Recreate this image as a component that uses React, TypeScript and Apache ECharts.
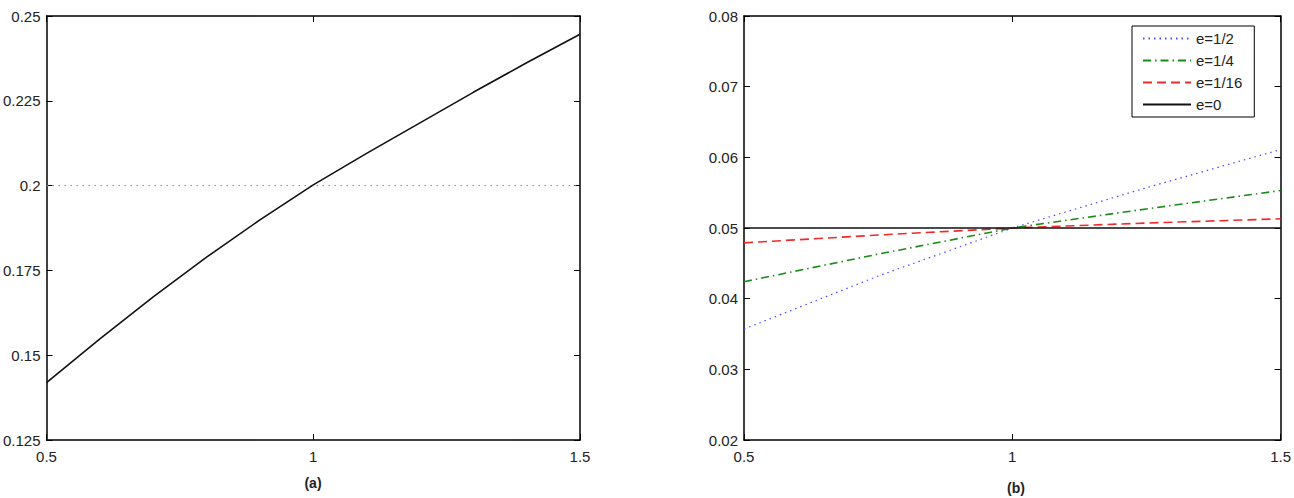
import React, { useEffect, useRef } from "react";
import * as echarts from "echarts";

// Panel (a)
const xA = [0.5, 0.6, 0.7, 0.8, 0.9, 1.0, 1.1, 1.2, 1.3, 1.4, 1.5];
const curveA = [0.1419, 0.1548, 0.1672, 0.1789, 0.1899, 0.2002, 0.2095, 0.2185, 0.2275, 0.2362, 0.2446];
const refX = [0.5, 1.5];
const refA = [0.2, 0.2];

// Panel (b)
const xB = [0.5, 0.75, 1.0, 1.25, 1.5];
const eHalf = [0.0357, 0.0432, 0.05, 0.0557, 0.0611];
const eQuarter = [0.0424, 0.0463, 0.05, 0.0527, 0.0553];
const eSixteenth = [0.0479, 0.049, 0.05, 0.0507, 0.0513];
const eZero = [0.05, 0.05, 0.05, 0.05, 0.05];
const legendNames = ["e=1/2", "e=1/4", "e=1/16", "e=0"];

const FONT = "Liberation Sans";
const TXT = "#222";

const pair = (xs: number[], ys: number[]) => xs.map((x, i) => [x, ys[i]]);

function axisPair(grid: number, min: number, max: number, interval: number, kind: "x" | "y") {
  const line = { show: true, lineStyle: { color: "#000", width: 1.5 } };
  const tick = { show: true, inside: true, length: 6, lineStyle: { color: "#000", width: 1 } };
  const main: any = {
    type: "value",
    gridIndex: grid,
    min,
    max,
    interval,
    position: kind === "x" ? "bottom" : "left",
    axisLine: { ...line, onZero: false },
    axisTick: tick,
    splitLine: { show: false },
    axisLabel: {
      show: true,
      color: TXT,
      fontFamily: FONT,
      fontSize: 15,
      margin: kind === "x" ? 9 : 6,
    },
  };
  const opp: any = {
    type: "value",
    gridIndex: grid,
    min,
    max,
    interval,
    position: kind === "x" ? "top" : "right",
    axisLine: { ...line, onZero: false },
    axisTick: tick,
    splitLine: { show: false },
    axisLabel: { show: false },
  };
  return [main, opp];
}

export default function App() {
  const ref = useRef<HTMLDivElement>(null);
  useEffect(() => {
    document.body.style.margin = "0";
    const chart = echarts.init(ref.current!, null, { renderer: "svg" });
    const option: any = {
      animation: false,
      backgroundColor: "#fff",
      grid: [
        { left: 42, top: 16, width: 538, height: 424 },
        { left: 744, top: 16, width: 540, height: 424 },
      ],
      xAxis: [...axisPair(0, 0.5, 1.5, 0.5, "x"), ...axisPair(1, 0.5, 1.5, 0.5, "x")],
      yAxis: [...axisPair(0, 0.125, 0.25, 0.025, "y"), ...axisPair(1, 0.02, 0.08, 0.01, "y")],
      legend: {
        orient: "vertical",
        left: 1132,
        top: 26,
        padding: [5, 12, 5, 10],
        borderColor: "#000",
        borderWidth: 1,
        backgroundColor: "#fff",
        itemWidth: 48,
        itemHeight: 14,
        itemGap: 7,
        itemTextGap: 6,
        itemStyle: { opacity: 0, borderWidth: 0 },
        data: legendNames,
        textStyle: { color: TXT, fontFamily: FONT, fontSize: 15 },
      },
      series: [
        {
          name: "ref",
          type: "line",
          xAxisIndex: 0,
          yAxisIndex: 0,
          symbol: "none",
          data: pair(refX, refA),
          lineStyle: { color: "#888", width: 1, type: [1.5, 4.5] },
        },
        {
          name: "curve",
          type: "line",
          xAxisIndex: 0,
          yAxisIndex: 0,
          symbol: "none",
          data: pair(xA, curveA),
          lineStyle: { color: "#111", width: 1.6 },
        },
        {
          name: legendNames[0],
          type: "line",
          xAxisIndex: 2,
          yAxisIndex: 2,
          symbol: "none",
          data: pair(xB, eHalf),
          color: "#4a4aff",
          lineStyle: { color: "#4a4aff", width: 1.2, type: [1.5, 4] },
        },
        {
          name: legendNames[1],
          type: "line",
          xAxisIndex: 2,
          yAxisIndex: 2,
          symbol: "none",
          data: pair(xB, eQuarter),
          color: "#1a8a1a",
          lineStyle: { color: "#1a8a1a", width: 1.6, type: [8, 4, 1.5, 4] },
        },
        {
          name: legendNames[2],
          type: "line",
          xAxisIndex: 2,
          yAxisIndex: 2,
          symbol: "none",
          data: pair(xB, eSixteenth),
          color: "#f02a2a",
          lineStyle: { color: "#f02a2a", width: 1.6, type: [9, 5] },
        },
        {
          name: legendNames[3],
          type: "line",
          xAxisIndex: 2,
          yAxisIndex: 2,
          symbol: "none",
          data: pair(xB, eZero),
          color: "#111",
          lineStyle: { color: "#111", width: 1.3 },
        },
      ],
      graphic: [
        {
          type: "text",
          x: 313,
          y: 483,
          style: {
            text: "(a)",
            font: `bold 14px "${FONT}"`,
            fill: TXT,
            textAlign: "center",
            textVerticalAlign: "middle",
          },
        },
        {
          type: "text",
          x: 1016,
          y: 488,
          style: {
            text: "(b)",
            font: `bold 14px "${FONT}"`,
            fill: TXT,
            textAlign: "center",
            textVerticalAlign: "middle",
          },
        },
      ],
    };
    chart.setOption(option);
    return () => chart.dispose();
  }, []);
  return <div ref={ref} style={{ width: 1294, height: 498 }} />;
}
